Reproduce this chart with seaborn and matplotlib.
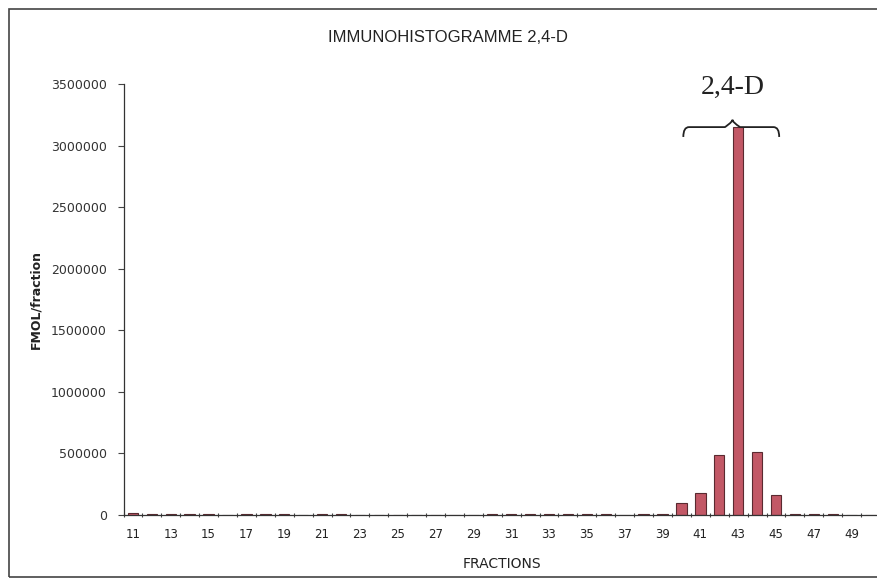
import matplotlib
matplotlib.use("Agg")
import matplotlib.pyplot as plt
import seaborn as sns
import pandas as pd
import numpy as np
from matplotlib.patches import Rectangle, PathPatch
from matplotlib.path import Path
from matplotlib.ticker import FixedLocator

fractions = list(range(11, 51))
fmol = [15000, 8000, 5000, 5000, 6000, 2000, 8000, 8000, 8000, 3000,
        10000, 12000, 4000, 2000, 1000, 1000, 1000, 1000, 4000, 5000,
        6000, 8000, 6000, 7000, 9000, 7000, 4000, 6000, 10000, 100000,
        175000, 485000, 3150000, 510000, 160000, 5000, 6000, 8000, 2000, 2000]
tick_labels = [str(f) for f in range(11, 51, 2)]
title = "IMMUNOHISTOGRAMME 2,4-D"
peak_label = "2,4-D"

df = pd.DataFrame({"fraction": [str(f) for f in fractions], "fmol": fmol})

sns.set_style("white")
plt.rcParams['font.family'] = ['DejaVu Sans']

fig = plt.figure(figsize=(8.77, 5.87), dpi=100)
ax = fig.add_axes([123.5/877, (587-515)/587, 756.5/877, 431/587])

sns.barplot(data=df, x="fraction", y="fmol", ax=ax, color="#c25866",
            saturation=1, width=0.55, edgecolor="#5a2a30", linewidth=0.8)

ax.set_ylim(0, 3500000)
ax.set_xlim(-0.5, len(fractions) - 0.5)
ax.set_yticks(np.arange(0, 3500001, 500000))
ax.set_yticklabels([str(v) for v in range(0, 3500001, 500000)], fontsize=9, color="#333333")

major_pos = [fractions.index(int(t)) for t in tick_labels]
ax.set_xticks(major_pos)
ax.set_xticklabels(tick_labels, fontsize=8.5, color="#222222")
ax.xaxis.set_minor_locator(FixedLocator(np.arange(-0.5, len(fractions), 1.0)))
ax.tick_params(bottom=True, left=True, which="both")
ax.tick_params(axis="x", which="major", length=0, pad=9)
ax.tick_params(axis="x", which="minor", length=3, width=0.8, direction="inout", color="#444444")
ax.tick_params(axis="y", which="major", length=4, width=0.8, direction="out", color="#444444", pad=8)

for s in ["top", "right"]:
    ax.spines[s].set_visible(False)
ax.spines["left"].set_color("#333333")
ax.spines["bottom"].set_color("#333333")
ax.spines["left"].set_linewidth(0.9)
ax.spines["bottom"].set_linewidth(0.9)

ax.set_xlabel("FRACTIONS", fontsize=10, color="#222222", labelpad=12)
ax.set_ylabel("FMOL/fraction", fontsize=9, fontweight="bold", color="#222222", labelpad=6)

fig.text(448/877, 1 - 37/587, title, ha="center", va="center",
         fontsize=12, family="Liberation Sans", color="#222222")

# brace annotation
i_peak = fractions.index(43)
xl, xr = i_peak - 2.9, i_peak + 2.17
xm = i_peak - 0.3
y_end, y_arm, y_tip = 3070000, 3150000, 3210000
verts = [(xl, y_end), (xl, y_arm), (xl + 0.3, y_arm),
         (xm - 0.4, y_arm), (xm - 0.4, y_arm), (xm, y_tip - 20000),
         (xm, y_tip), (xm, y_tip - 20000), (xm + 0.4, y_arm),
         (xr - 0.3, y_arm), (xr - 0.3, y_arm), (xr, y_arm),
         (xr, y_end)]
codes = [Path.MOVETO, Path.CURVE3, Path.CURVE3,
         Path.LINETO, Path.CURVE4, Path.CURVE4, Path.CURVE4,
         Path.CURVE3, Path.CURVE3,
         Path.LINETO, Path.LINETO, Path.CURVE3, Path.CURVE3]
ax.add_patch(PathPatch(Path(verts, codes), fill=False, lw=1.3, color="#222222", clip_on=False))
ax.text(xm, 3470000, peak_label, ha="center", va="center", fontsize=20,
        family="Liberation Serif", color="#222222", clip_on=False)

# outer frame
fig.patches.append(Rectangle((9/877, 10/587), 2.0, 1 - 19/587, transform=fig.transFigure,
                             fill=False, edgecolor="#444444", linewidth=1.2))

fig.savefig("out.png", dpi=100)
